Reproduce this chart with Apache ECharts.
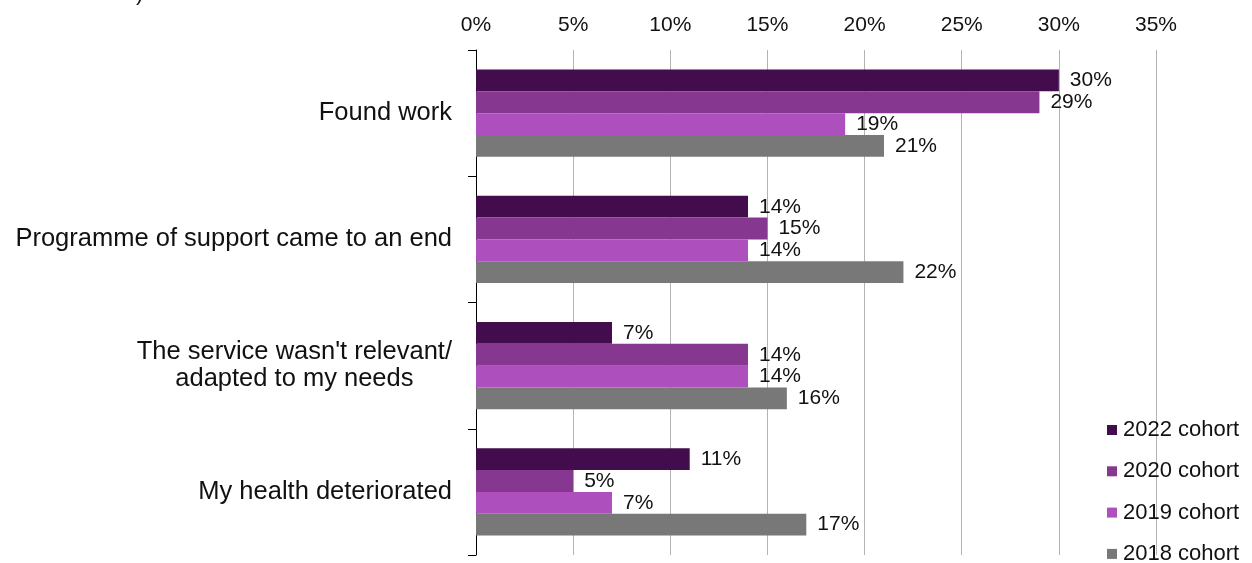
<!DOCTYPE html>
<html>
<head>
<meta charset="utf-8">
<script src="https://cdn.jsdelivr.net/npm/echarts@6/dist/echarts.min.js"></script>
<style>
  html, body { margin: 0; padding: 0; background: #ffffff; }
  #chart { width: 1252px; height: 563px; }
</style>
</head>
<body>
<div id="chart"></div>
<script>
// Reasons for leaving support, by cohort (share of respondents)
const categories = [
  'Found work',
  'Programme of support came to an end',
  "The service wasn't relevant/\nadapted to my needs",
  'My health deteriorated'
];
const cohortNames = ['2022 cohort', '2020 cohort', '2019 cohort', '2018 cohort'];
const cohort2022 = [30, 14, 7, 11];
const cohort2020 = [29, 15, 14, 5];
const cohort2019 = [19, 14, 14, 7];
const cohort2018 = [21, 22, 16, 17];
const xTicks = [0, 5, 10, 15, 20, 25, 30, 35];

const cohortValues = [cohort2022, cohort2020, cohort2019, cohort2018];
const cohortColors = ['#430c4d', '#86378f', '#ad4fbd', '#787878'];
const FONT = '"Liberation Sans", Arial, sans-serif';

const chart = echarts.init(document.getElementById('chart'), null, { renderer: 'canvas' });

const series = cohortNames.map((name, i) => ({
  name: name,
  type: 'bar',
  data: cohortValues[i],
  barGap: '0%',
  barCategoryGap: '31%',
  itemStyle: { color: cohortColors[i] },
  label: {
    show: true,
    position: 'right',
    distance: 11,
    formatter: '{c}%',
    color: '#111111',
    fontFamily: FONT,
    fontSize: 21
  }
}));

chart.setOption({
  animation: false,
  backgroundColor: '#ffffff',
  textStyle: { fontFamily: FONT },
  grid: { left: 476, right: 96, top: 50, bottom: 8, containLabel: false },
  graphic: [{
    type: 'text',
    left: 136,
    top: -17,
    style: { text: ')', font: '22px ' + FONT, fill: '#111111' }
  }],
  legend: {
    orient: 'vertical',
    left: 1107,
    top: 419,
    width: 140,
    height: 170,
    padding: 0,
    itemWidth: 10,
    itemHeight: 10,
    itemGap: 19.3,
    icon: 'rect',
    textStyle: { fontSize: 22, color: '#111111', fontFamily: FONT, padding: [0, 0, 0, 1] },
    data: cohortNames
  },
  xAxis: {
    type: 'value',
    position: 'top',
    min: xTicks[0],
    max: xTicks[xTicks.length - 1],
    interval: xTicks[1] - xTicks[0],
    axisLine: { show: false },
    axisTick: { show: false },
    axisLabel: {
      formatter: '{value}%',
      fontSize: 21,
      color: '#111111',
      fontFamily: FONT,
      margin: 14
    },
    splitLine: { show: true, lineStyle: { color: '#b3b3b3', width: 1 } }
  },
  yAxis: {
    type: 'category',
    inverse: true,
    data: categories,
    axisLine: { show: true, lineStyle: { color: '#000000', width: 1 } },
    axisTick: { show: true, length: 8, lineStyle: { color: '#000000' } },
    axisLabel: {
      margin: 24,
      formatter: function (v) {
        return v.split('\n').map(function (s) { return '{c|' + s + '}'; }).join('\n');
      },
      rich: {
        c: {
          align: 'center',
          fontSize: 25.5,
          lineHeight: 27,
          color: '#111111',
          fontFamily: FONT
        }
      }
    }
  },
  series: series
});
</script>
</body>
</html>
